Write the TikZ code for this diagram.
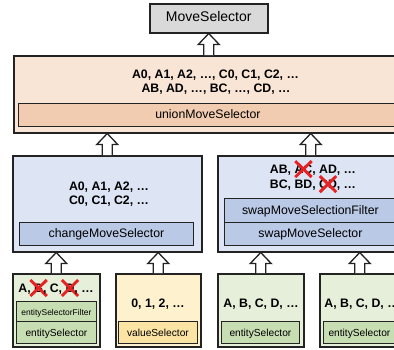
\documentclass[tikz,border=0pt]{standalone}
\usepackage{fontspec}
\setmainfont{Liberation Sans}
\usetikzlibrary{calc}

\definecolor{msgray}{RGB}{217,217,217}
\definecolor{peachbg}{RGB}{249,229,214}
\definecolor{peachin}{RGB}{241,204,176}
\definecolor{bluebg}{RGB}{221,228,243}
\definecolor{bluein}{RGB}{186,201,230}
\definecolor{greenbg}{RGB}{230,239,218}
\definecolor{greenin}{RGB}{199,221,178}
\definecolor{yellowbg}{RGB}{254,242,206}
\definecolor{yellowin}{RGB}{251,227,163}
\definecolor{xred}{RGB}{232,34,34}
\definecolor{edgec}{RGB}{35,35,35}

% a red X laid over a piece of text, without changing its width
\newcommand\crossout[1]{\tikz[baseline=(xo.base)]{%
  \node[inner sep=0pt,outer sep=0pt] (xo) {#1};
  \draw[overlay,xred,line width=2.9pt]
    ($(xo.base)+(-8.2pt,-3.6pt)$) -- ($(xo.base)+(8.2pt,12.4pt)$)
    ($(xo.base)+(-8.2pt,12.4pt)$) -- ($(xo.base)+(8.2pt,-3.6pt)$);}}

% hollow block arrow pointing up, from a base point to a tip point
\newcommand\blockup[2]{%
  \draw[edgec,fill=white,line width=1.3pt,line join=miter] let \p1=(#1), \p2=(#2) in
    (\x1-5pt,\y1) -- (\x1-5pt,\y2-11pt) -- (\x1-10.5pt,\y2-11pt) -- (\x1,\y2)
    -- (\x1+10.5pt,\y2-11pt) -- (\x1+5pt,\y2-11pt) -- (\x1+5pt,\y1);}

\begin{document}
\begin{tikzpicture}[x=1pt,y=-1pt,
  % box given by its top-left corner (the "at" point), width and height
  sized/.style 2 args={anchor=north west,minimum width=#1,minimum height=#2},
  obox/.style={draw=edgec,line width=1.5pt,inner sep=0pt},
  ibox/.style={draw=edgec,line width=0.9pt,inner sep=0pt,
    text height=0.716em,text depth=0pt},
  reg/.style={font=\fontsize{12.3}{14}\selectfont},
  mid/.style={font=\fontsize{10.2}{12}\selectfont},
  tiny/.style={font=\fontsize{8.45}{10}\selectfont},
  items/.style={font=\fontsize{12.3}{14}\selectfont\bfseries,anchor=base,inner sep=0pt}]

\useasboundingbox (0,0) rectangle (394,349);

% top level
\node[ibox,line width=1.5pt,fill=msgray,sized={118pt}{29pt},
  font=\fontsize{14}{16}\selectfont] (ms) at (149,3) {MoveSelector};

% union selector
\node[obox,fill=peachbg,sized={389pt}{77pt}] (union) at (13,55) {};
\node[items] (unionA) at (215.5,78.5) {A0, A1, A2, …, C0, C1, C2, …};
\node[items] (unionB) at (216,92) {AB, AD, …, BC, …, CD, …};
\node[ibox,reg,fill=peachin,sized={379pt}{23pt}] (unionsel) at (18,103) {unionMoveSelector};

% change selector
\node[obox,fill=bluebg,sized={189pt}{96pt}] (change) at (12,155) {};
\node[items] (changeA) at (109,190) {A0, A1, A2, …};
\node[items] (changeB) at (109,204) {C0, C1, C2, …};
\node[ibox,reg,fill=bluein,sized={174pt}{23pt}] (changesel) at (19,222) {changeMoveSelector};

% swap selector
\node[obox,fill=bluebg,sized={186pt}{96pt}] (swap) at (217,155) {};
\node[items] (swapA) at (313,173.5) {AB, \crossout{AC}, AD, …};
\node[items] (swapB) at (313,188.5) {BC, BD, \crossout{CD}, …};
\node[ibox,reg,fill=bluein,sized={172pt}{24pt}] (swapfilter) at (224,198) {swapMoveSelectionFilter};
\node[ibox,reg,fill=bluein,sized={172pt}{23pt}] (swapsel) at (224,222) {swapMoveSelector};

% filtered entity selector
\node[obox,fill=greenbg,sized={87pt}{73pt}] (efilt) at (12,273) {};
\node[items] (efiltA) at (56,292.4) {A, \crossout{B}, C, \crossout{D}, …};
\node[ibox,tiny,fill=greenin,sized={80pt}{20pt}] (efiltf) at (16,301) {entitySelectorFilter};
\node[ibox,mid,fill=greenin,sized={80pt}{22pt}] (efilts) at (16,321) {entitySelector};

% value selector
\node[obox,fill=yellowbg,sized={85pt}{73pt}] (value) at (115,273) {};
\node[items] (valueA) at (158,307.5) {0, 1, 2, …};
\node[ibox,mid,fill=yellowin,sized={79pt}{22pt}] (values) at (118,321) {valueSelector};

% entity selectors of the swap
\node[obox,fill=greenbg,sized={86pt}{73pt}] (entA) at (217,273) {};
\node[items] (entAtext) at (261,307.5) {A, B, C, D, …};
\node[ibox,mid,fill=greenin,sized={78pt}{22pt}] (entAs) at (221,321) {entitySelector};

\node[obox,fill=greenbg,sized={80pt}{73pt}] (entB) at (319,273) {};
\node[items] (entBtext) at (362,307.5) {A, B, C, D, …};
\node[ibox,mid,fill=greenin,sized={72pt}{22pt}] (entBs) at (323,321) {entitySelector};

% arrows
\blockup{ms.south |- union.north}{ms.south}
\blockup{change.north}{change.north |- union.south}
\blockup{swap.north}{swap.north |- union.south}
\blockup{efilt.north}{efilt.north |- change.south}
\blockup{value.north}{value.north |- change.south}
\blockup{entA.north}{entA.north |- swap.south}
\blockup{entB.north}{entB.north |- swap.south}
\end{tikzpicture}
\end{document}
